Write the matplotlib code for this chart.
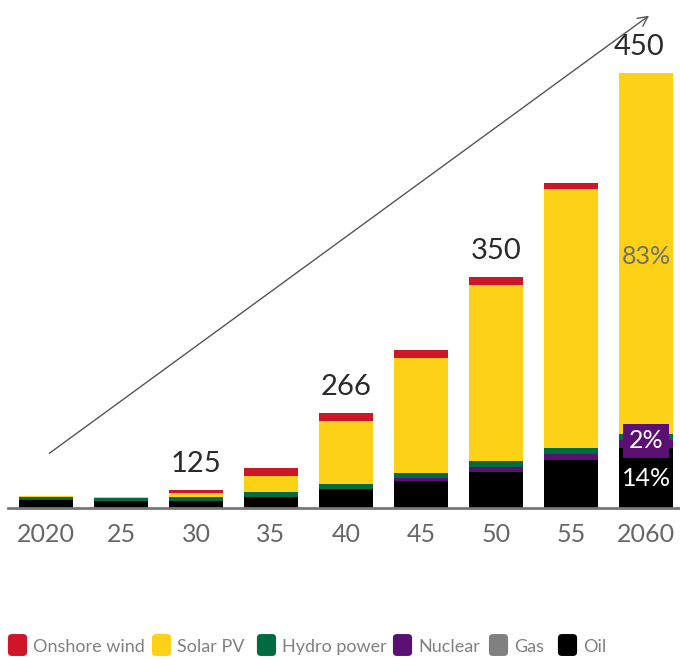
import matplotlib
matplotlib.use("Agg")
import matplotlib.pyplot as plt
from matplotlib import font_manager
from matplotlib.patches import FancyBboxPatch
import numpy as np

font = "Lato"
names = {f.name for f in font_manager.fontManager.ttflist}
if "Lato" not in names:
    font = "DejaVu Sans"
plt.rcParams["font.family"] = [font, "DejaVu Sans"]
weight = "normal"

# data
years = ["2020", "25", "30", "35", "40", "45", "50", "55", "2060"]
oil = [8, 7, 7, 10.7, 18.7, 27, 36, 48, 60]
gas = [0, 0, 0, 0, 0, 0, 0, 0, 0]
nuclear = [0, 0, 0, 0, 0.6, 3, 5, 6, 8.5]
hydro = [3.3, 3, 3.7, 5.3, 4.7, 5, 6, 6, 6]
solar = [0.7, 1, 4.3, 16, 63.3, 115, 176, 259, 360.5]
wind = [0, 0, 3, 8, 7.7, 8, 8, 6, 0]
totals_txt = {2: "125", 4: "266", 6: "350", 8: "450"}
share_labels = {"solar": "83%", "nuclear": "2%", "oil": "14%"}

series = [
    ("Oil", oil, "#000000"),
    ("Gas", gas, "#808080"),
    ("Nuclear", nuclear, "#5b0f73"),
    ("Hydro power", hydro, "#006b3f"),
    ("Solar PV", solar, "#fdd116"),
    ("Onshore wind", wind, "#cf1528"),
]
legend_order = ["Onshore wind", "Solar PV", "Hydro power", "Nuclear", "Gas", "Oil"]

fig = plt.figure(figsize=(6.8, 6.6), dpi=100)
ax = fig.add_axes([8 / 680, 152 / 660, 672 / 680, 508 / 660])

x = np.arange(len(years))
bottom = np.zeros(len(years))
for name, vals, col in series:
    vals = np.array(vals, dtype=float)
    ax.bar(x, vals, 0.72, bottom=bottom, color=col, linewidth=0, zorder=2)
    bottom += vals

ax.set_xlim(-0.507, 8.453)
ax.set_ylim(0, 508)

for s in ["top", "right", "left"]:
    ax.spines[s].set_visible(False)
ax.spines["bottom"].set_color("#777777")
ax.spines["bottom"].set_linewidth(2)
ax.spines["bottom"].set_zorder(3)
ax.set_yticks([])
ax.set_xticks(x)
ax.set_xticklabels(years, fontsize=18, color="#666666", fontweight=weight)
ax.tick_params(axis="x", length=0, pad=11)

# labels above selected bars
for i, txt in totals_txt.items():
    ax.text(x[i] - 0.09 * (i == 8), bottom[i] + 13, txt, ha="center", va="bottom",
            fontsize=21, color="#2a2a2a", fontweight=weight, zorder=4)

# share labels on the 2060 bar
last = len(years) - 1
ax.text(x[last], oil[last] / 2 - 1, share_labels["oil"], ha="center", va="center",
        fontsize=18, color="white", fontweight=weight, zorder=4)
ax.text(x[last], oil[last] + 7, share_labels["nuclear"], ha="center", va="center",
        fontsize=18, color="white", fontweight=weight, zorder=4,
        bbox=dict(boxstyle="square,pad=0.22", fc="#5b0f73", ec="none"))
ax.text(x[last], 252, share_labels["solar"], ha="center", va="center",
        fontsize=18, color="#707070", fontweight=weight, zorder=4)

# growth arrow
ax.annotate("", xy=(8.07, 494), xytext=(0.013, 53),
            arrowprops=dict(arrowstyle="->,head_length=0.7,head_width=0.35",
                            color="#555555", lw=1.0), zorder=1)

# legend along the bottom
colors = {n: c for n, _, c in series}
lx = [8, 152, 257, 393, 489, 558]
for px, name in zip(lx, legend_order):
    fig.patches.append(FancyBboxPatch(((px + 4) / 680, 8 / 660), 11 / 680, 14 / 660,
                                      boxstyle="round,pad=0.006", fc=colors[name], ec="none",
                                      transform=fig.transFigure))
    fig.text((px + 25) / 680, 13 / 660, name, fontsize=13, color="#808080",
             fontweight=weight, va="center", ha="left")

fig.savefig("out.png", dpi=100)
